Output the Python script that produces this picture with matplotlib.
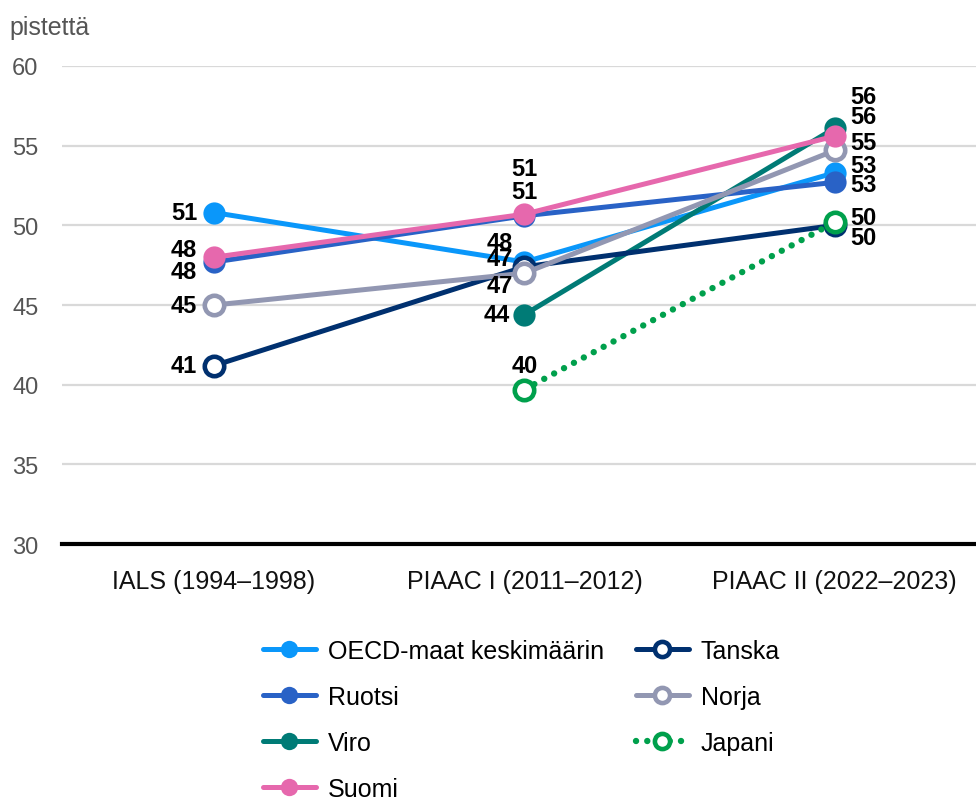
import numpy as np
import matplotlib.pyplot as plt

plt.rcParams['font.family'] = ['Liberation Sans', 'DejaVu Sans']

kierrokset = ["IALS (1994–1998)", "PIAAC I (2011–2012)", "PIAAC II (2022–2023)"]

oecd = [50.8, 47.7, 53.3]
ruotsi = [47.7, 50.6, 52.7]
viro = [np.nan, 44.4, 56.1]
suomi = [48.0, 50.7, 55.6]
tanska = [41.2, 47.4, 50.0]
norja = [45.0, 47.0, 54.7]
japani = [np.nan, 39.7, 50.2]

# nimi, arvot, väri, täytetty?, pisteviiva?
sarjat = [
    ("OECD-maat keskimäärin", oecd, "#0a97fa", True, False),
    ("Ruotsi", ruotsi, "#2962c6", True, False),
    ("Viro", viro, "#007b76", True, False),
    ("Tanska", tanska, "#00306f", False, False),
    ("Norja", norja, "#9297b2", False, False),
    ("Japani", japani, "#00a04c", False, True),
    ("Suomi", suomi, "#e668ad", True, False),
]

# tekstien siirrot pikseleinä (dx, dy, ha) kullekin pisteelle
siirrot = {
    "OECD-maat keskimäärin": [(-17, 0, "right"), (-25, 20, "center"), (15, 7, "left")],
    "Ruotsi": [(-17, -9, "right"), (0, 24, "center"), (15, -2, "left")],
    "Viro": [None, (-15, 0, "right"), (15, 32, "left")],
    "Tanska": [(-17, 0, "right"), (-25, 8, "center"), (15, -12, "left")],
    "Norja": [(-17, 0, "right"), (-25, -12, "center"), (15, 8, "left")],
    "Japani": [None, (0, 24, "center"), (15, 5, "left")],
    "Suomi": [(-17, 8, "right"), (0, 46, "center"), (15, 20, "left")],
}

fig = plt.figure(figsize=(9.76, 8.04), dpi=100)
ax = fig.add_axes([0.0635, 0.322, 0.9365, 0.5947])

x = np.arange(len(kierrokset))
kahvat = {}
for nimi, arvot, vari, taytetty, pisteet in sarjat:
    arvot = np.array(arvot, dtype=float)
    if pisteet:
        # viiva ja merkit erikseen, jotta pisteet eivät näy ympyrän läpi
        ax.plot(x, arvot, color=vari, lw=4.6, linestyle=(0, (0.01, 1.75)),
                dash_capstyle="round", zorder=3)
        h, = ax.plot(x, arvot, linestyle="none", marker="o", markersize=14,
                     markerfacecolor="white", markeredgecolor=vari,
                     markeredgewidth=3.3, zorder=3)
        kahvat[nimi] = (ax.plot([], [], color=vari, lw=4.6, linestyle=(0, (0.01, 1.75)),
                                dash_capstyle="round")[0], h)
    else:
        fc = vari if taytetty else "white"
        h, = ax.plot(x, arvot, linestyle="-", color=vari, lw=3.6,
                     marker="o", markersize=16 if taytetty else 14, markerfacecolor=fc,
                     markeredgecolor=vari, markeredgewidth=0 if taytetty else 3.3,
                     solid_capstyle="round", zorder=3)
        kahvat[nimi] = h
    for i, v in enumerate(arvot):
        s = siirrot[nimi][i]
        if s is None or np.isnan(v):
            continue
        ax.annotate(f"{v:.0f}", (x[i], v), xytext=(s[0], s[1]), textcoords="offset pixels",
                    ha=s[2], va="center", fontsize=17, fontweight="bold", color="black",
                    zorder=5)

ax.set_xlim(-0.49, 2.455)
ax.set_ylim(30, 60)
ax.set_yticks(range(30, 61, 5))
ax.set_xticks(x)
ax.set_xticklabels(kierrokset, fontsize=18, color="#111111")
ax.grid(axis="y", color="#d9d9d9", lw=1.6)
ax.set_axisbelow(True)
for side in ["top", "right", "left"]:
    ax.spines[side].set_visible(False)
ax.spines["bottom"].set_linewidth(3)
ax.spines["bottom"].set_color("black")
ax.tick_params(axis="both", length=0)
ax.tick_params(axis="y", pad=17, labelsize=17, labelcolor="#555555")
ax.tick_params(axis="x", pad=18)

fig.text(0.01, 0.965, "pistettä", fontsize=18, color="#555555", va="center", ha="left")

jarjestys = ["OECD-maat keskimäärin", "Ruotsi", "Viro", "Suomi", "Tanska", "Norja", "Japani"]
leg = fig.legend([kahvat[n] for n in jarjestys], jarjestys, ncol=2, loc="upper left",
                 bbox_to_anchor=(0.2695, 0.204), frameon=False, fontsize=18,
                 handlelength=2.1, handletextpad=0.48, labelspacing=0.88,
                 columnspacing=1.3, borderpad=0, borderaxespad=0, markerscale=0.78)

fig.savefig("out.png", dpi=100)
